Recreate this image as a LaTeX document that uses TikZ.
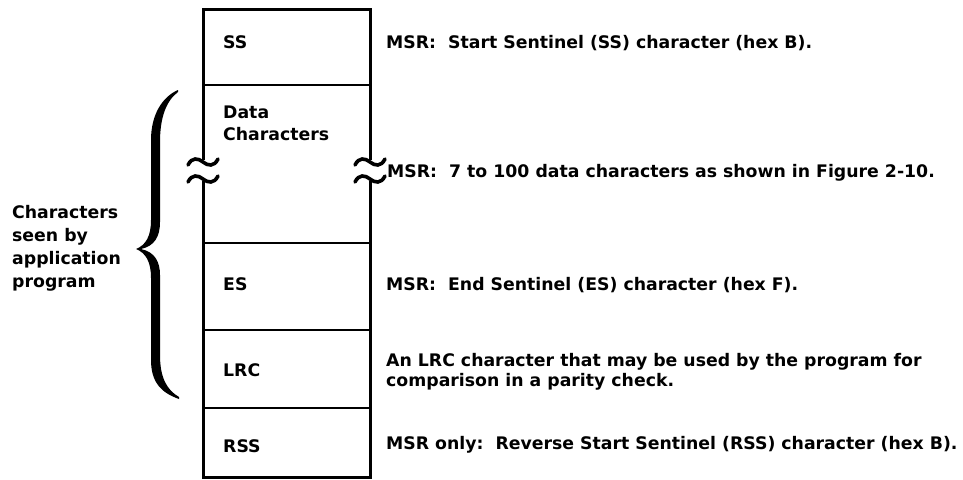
\documentclass[tikz,border=0pt]{standalone}
\usepackage{fontspec}
\setmainfont{DejaVu Sans}
\begin{document}
\begin{tikzpicture}[x=1pt,y=-1pt,
    frame/.style={line width=3pt},
    rule/.style={line width=2.4pt},
    wiggle/.style={line width=3.6pt, line cap=round},
    txt/.style={anchor=base west, inner sep=0pt, align=left,
        font=\bfseries\fontsize{17.3}{22}\selectfont}]
    \useasboundingbox (0,0) rectangle (963,479);
    % record layout, both sides broken in the data row
    \draw[frame] (203,160) -- (203,9) -- (370,9) -- (370,160);
    \draw[frame] (203,181) -- (203,477) -- (370,477) -- (370,181);
    \foreach \y in {85,243,330,408}
        \draw[rule] (203,\y) -- (370,\y);
    \foreach \ex in {203,370}
        \foreach \ey in {162,179}
            \draw[wiggle] (\ex-15,\ey+3) .. controls (\ex-11,\ey-5) and (\ex-5,\ey-4) .. (\ex,\ey)
                .. controls (\ex+5,\ey+4) and (\ex+11,\ey+5) .. (\ex+15,\ey-3);
    % brace over the characters the program sees
    \fill (178,90) .. controls (162,97) and (151,115) .. (151,140) -- (151,220)
        .. controls (151,236) and (146,245) .. (136,249)
        .. controls (146,253) and (151,262) .. (151,278) -- (151,360)
        .. controls (151,383) and (162,393) .. (179,399) -- (179,397)
        .. controls (167,390) and (160,378) .. (160,355) -- (160,275)
        .. controls (160,262) and (155,252) .. (141,249)
        .. controls (155,246) and (160,236) .. (160,222) -- (160,142)
        .. controls (160,118) and (166,101) .. (178,92) -- cycle;
    \node[txt, font=\bfseries\fontsize{17.3}{23}\selectfont] (seen) at (12,287)
        {Characters\\seen by\\application\\program};
    % field names
    \node[txt] (ss) at (223,48) {SS};
    \node[txt] (data) at (223,140) {Data\\Characters};
    \node[txt] (es) at (223,290) {ES};
    \node[txt] (lrc) at (223,376) {LRC};
    \node[txt] (rss) at (223,452) {RSS};
    % notes
    \node[txt] (nss) at (386,48) {MSR:\ \ Start Sentinel (SS) character (hex B).};
    \node[txt] (ndata) at (387,177) {MSR:\ \ 7 to 100 data characters as shown in Figure 2-10.};
    \node[txt] (nes) at (386,290) {MSR:\ \ End Sentinel (ES) character (hex F).};
    \node[txt, font=\bfseries\fontsize{17.3}{20}\selectfont] (nlrc) at (386,386)
        {An LRC character that may be used by the program for\\comparison in a parity check.};
    \node[txt] (nrss) at (386,449) {MSR only:\ \ Reverse Start Sentinel (RSS) character (hex B).};
\end{tikzpicture}
\end{document}
